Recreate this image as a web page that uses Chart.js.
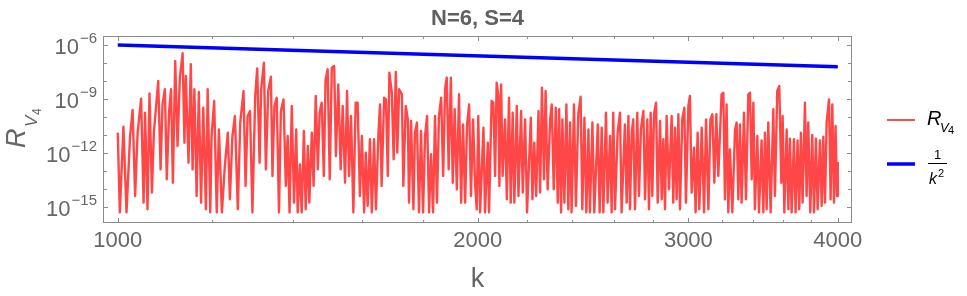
<!DOCTYPE html>
<html>
<head>
<meta charset="utf-8">
<script src="https://cdn.jsdelivr.net/npm/chart.js@4.4.1/dist/chart.umd.min.js"></script>
<style>
  html, body { margin: 0; padding: 0; background: #fff; }
  #wrap { width: 967px; height: 296px; }
</style>
</head>
<body>
<div id="wrap"><canvas id="myChart" width="967" height="296"></canvas></div>
<script>
// k values (log axis) and log10 of R_V4
var redK = [
  1000,1004,1011,1017,1024,1029,1034,1039,1046,1051,1054,1059,1063,1068,1072,1081,1086,1090,1095,1099,
  1104,1108,1112,1117,1122,1127,1133,1137,1140,1146,1151,1155,1159,1164,1169,1174,1179,1185,1189,1195,
  1198,1204,1210,1215,1222,1229,1236,1241,1247,1253,
  1260,1266,1274,1279,1284,1290,1296,1303,1308,1314,1318,1325,1330,1336,1343,1347,1352,1358,1364,1369,
  1376,1382,1387,1392,1398,1404,1410,1414,1420,1425,1431,1436,1442,1446,1453,1458,1464,1470,1475,1481,
  1487,1492,1498,1504,1510,1517,1522,1529,1536,1542,1549,1555,1561,1567,1574,1581,
  1587,1594,1600,1607,1612,1618,1625,1631,1638,1644,1652,1657,1662,1670,1676,1682,1687,1695,1701,1708,
  1713,1719,1728,1733,1741,1748,1752,1759,1767,1772,1779,1786,1793,1800,1807,1814,1821,1828,1835,1842,
  1849,1856,1864,1871,1878,1884,1891,1899,1906,1913,1921,1929,1937,1944,1952,1959,1967,1974,1982,1990,
  1996,2002,2009,2022,2028,2039,2044,2054,2061,2068,2074,2081,2085,2092,2098,2108,2115,2124,2131,2139,
  2146,2156,2163,2174,2181,2191,2199,2215,2222,2230,2238,2248,2255,2263,2272,2279,2288,2299,2306,2315,
  2324,2333,2339,2348,2354,2363,2372,2381,2389,2396,2407,2416,2427,2438,2446,2456,2465,2475,2482,2494,2503,
  2520,2529,2539,2547,2560,2568,2580,2588,2596,2605,2618,2630,2638,2655,2664,2673,2681,2690,2698,2707,
  2719,2728,2738,2751,2760,2772,2781,2790,2799,2808,2819,2828,2841,2850,2859,2868,2877,2890,2905,2914,
  2924,2933,2943,2952,2965,2977,2986,3000,3009,3019,3033,3042,3054,3064,3078,3092,3104,3118,3130,3142,3154,
  3166,3178,3198,3209,3219,3229,3240,3250,3265,3282,3292,3303,3313,3324,3339,3352,3367,3378,3389,3400,
  3410,3426,3437,3454,3466,3477,3488,3499,3515,3533,3544,3560,3574,3588,3597,3609,3625,3637,3648,3660,
  3676,3688,3702,3714,3726,3738,3755,3767,3779,3794,3808,3821,3835,3848,3865,3878,3890,3903,3915,3933,
  3945,3958,3971,3983,3994,4000
];
var redExp = [
  -10.87,-15.3,-10.54,-15.3,-11.06,-9.61,-14.39,-10.87,-8.98,-14.76,-9.76,-15.13,-8.69,-14.2,-10.87,-8.0,-12.91,-9.3,-8.46,-13.46,
  -9.67,-8.46,-13.65,-6.89,-11.61,-7.81,-6.46,-11.43,-7.72,-12.54,-7.07,-12.91,-8.46,-14.39,-8.61,-14.76,-9.48,-15.13,-8.46,-15.3,
  -11.06,-9.11,-15.3,-10.69,-15.3,-12.72,-10.87,-14.57,-11.06,-9.94,
  -15.13,-10.31,-8.56,-13.83,-9.94,-9.67,-15.3,-8.83,-7.3,-12.54,-8.46,-6.98,-12.91,-8.56,-7.76,-13.28,-9.39,-8.93,-15.3,-9.67,
  -9.02,-13.83,-11.06,-15.3,-9.39,-14.76,-10.69,-15.3,-12.63,-15.3,-10.78,-15.13,-11.61,-14.76,-10.87,-13.83,-8.83,-12.91,-9.76,-9.2,
  -13.28,-7.91,-7.35,-13.46,-7.26,-7.17,-12.17,-8.19,-12.91,-9.39,-13.65,-8.56,-13.28,-9.94,-15.3,-9.2,
  -9.2,-14.39,-11.06,-15.3,-11.98,-14.94,-11.24,-15.3,-11.24,-15.13,-10.87,-9.3,-13.83,-8.93,-9.02,-13.28,-7.54,-8.65,-12.35,-7.5,
  -11.98,-8.46,-8.74,-13.83,-9.39,-10.13,-14.76,-10.22,-15.13,-10.87,-10.31,-15.3,-10.78,-15.3,-11.06,-9.94,-15.3,-12.07,-15.3,-9.94,
  -14.76,-9.94,-8.93,-13.28,-8.46,-7.81,-12.91,-7.81,-13.65,-9.57,-14.02,-8.74,-14.76,-10.41,-14.76,-10.5,-9.3,-14.39,-10.13,-13.83,
  -15.13,-9.94,-15.3,-10.59,-15.3,-11.43,-15.3,-9.11,-9.2,-13.28,-8.09,-8.83,-13.83,-8.19,-13.28,-10.13,-14.57,-8.93,-14.76,-9.76,
  -14.76,-9.39,-14.39,-9.67,-14.2,-10.13,-15.3,-10.04,-14.57,-11.43,-14.39,-9.67,-14.2,-8.37,-13.46,-8.56,-14.02,-10.13,-9.3,-14.02,
  -9.48,-14.76,-9.57,-15.3,-10.13,-14.76,-9.3,-15.13,-10.31,-15.3,-9.3,-14.94,-9.85,-8.87,-15.13,-10.04,-15.3,-10.69,-15.3,-10.31,-15.3,
  -10.41,-15.3,-10.59,-15.3,-9.76,-14.76,-11.06,-15.3,-9.76,-15.13,-10.87,-9.76,-15.3,-10.41,-14.76,-9.94,-15.13,-10.87,-10.13,-15.13,
  -9.76,-14.39,-10.69,-9.67,-14.57,-10.13,-15.13,-9.76,-14.39,-9.85,-9.2,-14.76,-10.22,-14.57,-11.24,-15.13,-9.94,-14.02,-9.94,-14.76,
  -10.59,-14.57,-9.85,-15.13,-10.13,-9.48,-14.76,-9.39,-8.83,-14.2,-11.7,-15.3,-10.87,-15.13,-10.59,-15.3,-10.13,-15.13,-10.13,-9.85,-13.65,
  -9.85,-13.28,-8.74,-8.65,-14.57,-9.3,-15.3,-11.8,-15.3,-10.69,-10.31,-14.57,-10.41,-14.76,-9.76,-14.57,-8.74,-8.65,-13.46,-9.2,
  -15.13,-11.06,-15.3,-11.3,-15.3,-10.87,-15.13,-10.31,-15.3,-9.57,-14.39,-8.56,-8.28,-13.65,-9.94,-15.3,-10.69,-15.13,-11.2,-15.3,
  -11.24,-15.3,-11.3,-15.13,-10.87,-14.76,-9.2,-14.39,-10.31,-15.3,-11.0,-15.3,-11.2,-15.13,-11.3,-14.94,-11.1,-14.76,-10.31,-9.02,
  -14.57,-9.3,-14.76,-10.5,-14.39,-12.5
];

// 1/k^2 reference line, end points
var blueK = [1000, 4000];
var blueVal = [1e-6, 6.25e-8];

// axis ticks
var xMajorTicks = [1000, 2000, 3000, 4000];
var xMinorTicks = [1200, 1400, 1600, 1800, 2200, 2400, 2600, 2800, 3200, 3400, 3600, 3800];
var yMajorExp = [-6, -9, -12, -15];
var yMinorExp = [-7, -8, -10, -11, -13, -14];

var redPoints = redK.map(function (k, i) { return { x: k, y: Math.pow(10, redExp[i]) }; });
var bluePoints = blueK.map(function (k, i) { return { x: k, y: blueVal[i] }; });

var textColor = '#666666';
var font = 'Liberation Sans, Arial, sans-serif';

function txt(c, s, x, y, f, align) {
    c.font = f;
    c.textAlign = align || 'left';
    c.textBaseline = 'alphabetic';
    c.fillText(s, x, y);
}

// frame, inward ticks, labels and legend (Mathematica style)
var framePlugin = {
    id: 'frame',
    afterDraw: function (chart) {
        var c = chart.ctx, a = chart.chartArea;
        var xs = chart.scales.x, ys = chart.scales.y;
        c.save();
        c.strokeStyle = '#8c8c8c';
        c.lineWidth = 1;
        c.strokeRect(a.left + 0.5, a.top + 0.5, a.right - a.left - 1, a.bottom - a.top - 1);

        c.beginPath();
        xMajorTicks.concat(xMinorTicks).forEach(function (k) {
            var px = Math.round(xs.getPixelForValue(k)) + 0.5;
            var len = xMajorTicks.indexOf(k) >= 0 ? 5 : 3;
            c.moveTo(px, a.bottom); c.lineTo(px, a.bottom - len);
            c.moveTo(px, a.top); c.lineTo(px, a.top + len);
        });
        yMajorExp.concat(yMinorExp).forEach(function (e) {
            var py = Math.round(ys.getPixelForValue(Math.pow(10, e))) + 0.5;
            var len = yMajorExp.indexOf(e) >= 0 ? 5 : 4;
            c.moveTo(a.left, py); c.lineTo(a.left + len, py);
            c.moveTo(a.right, py); c.lineTo(a.right - len, py);
        });
        c.stroke();

        c.fillStyle = textColor;
        xMajorTicks.forEach(function (k) {
            txt(c, String(k), xs.getPixelForValue(k), 247, '22px ' + font, 'center');
        });
        yMajorExp.forEach(function (e) {
            var py = ys.getPixelForValue(Math.pow(10, e));
            var ex = '\u2212' + Math.abs(e);
            c.font = '15px ' + font;
            var w = c.measureText(ex).width;
            txt(c, ex, 97, py - 2, '15px ' + font, 'right');
            txt(c, '10', 97 - w - 1, py + 9, '22px ' + font, 'right');
        });

        // title and axis labels
        c.fillStyle = '#5f5f5f';
        txt(c, 'N=6, S=4', (a.left + a.right) / 2, 25, 'bold 22px ' + font, 'center');
        c.fillStyle = textColor;
        txt(c, 'k', (a.left + a.right) / 2, 287, '27px ' + font, 'center');

        c.save();
        c.translate(25, 148);
        c.rotate(-Math.PI / 2);
        txt(c, 'R', 0, 0, 'italic 27px ' + font);
        txt(c, 'V', 21, 12, 'italic 17px ' + font);
        txt(c, '4', 33, 16, '12px ' + font);
        c.restore();

        // legend
        c.lineCap = 'butt';
        c.strokeStyle = 'rgba(255,0,0,0.7)';
        c.lineWidth = 2;
        c.beginPath(); c.moveTo(887, 120); c.lineTo(915, 120); c.stroke();
        c.strokeStyle = '#0000ff';
        c.lineWidth = 3.5;
        c.beginPath(); c.moveTo(887, 164); c.lineTo(915, 164); c.stroke();

        c.fillStyle = '#000000';
        txt(c, 'R', 927, 125, 'italic 20px ' + font);
        txt(c, 'V', 940, 132, 'italic 13px ' + font);
        txt(c, '4', 948, 134, '11px ' + font);

        txt(c, '1', 937.5, 159, '13px ' + font, 'center');
        c.strokeStyle = '#000000';
        c.lineWidth = 1;
        c.beginPath(); c.moveTo(928, 163.5); c.lineTo(947, 163.5); c.stroke();
        txt(c, 'k', 929, 184, 'italic 16px ' + font);
        txt(c, '2', 938, 177, '11px ' + font);
        c.restore();
    }
};

var ctx = document.getElementById('myChart').getContext('2d');
var myChart = new Chart(ctx, {
    type: 'line',
    data: {
        datasets: [{
            label: 'R_V4',
            data: redPoints,
            borderColor: 'rgba(255,0,0,0.72)',
            borderWidth: 2.4,
            borderJoinStyle: 'round',
            pointRadius: 0,
            tension: 0,
        }, {
            label: '1/k^2',
            data: bluePoints,
            borderColor: '#0000ff',
            borderWidth: 3.5,
            pointRadius: 0,
            tension: 0,
        }],
    },
    options: {
        responsive: false,
        animation: false,
        devicePixelRatio: 1,
        layout: { padding: { left: 103, right: 115, top: 36, bottom: 73 } },
        plugins: {
            legend: { display: false },
            title: { display: false },
            tooltip: { enabled: false },
        },
        scales: {
            x: { type: 'logarithmic', min: 972, max: 4111, display: false },
            y: { type: 'logarithmic', min: Math.pow(10, -15.89), max: Math.pow(10, -5.5), display: false },
        },
    },
    plugins: [framePlugin],
});
</script>
</body>
</html>
